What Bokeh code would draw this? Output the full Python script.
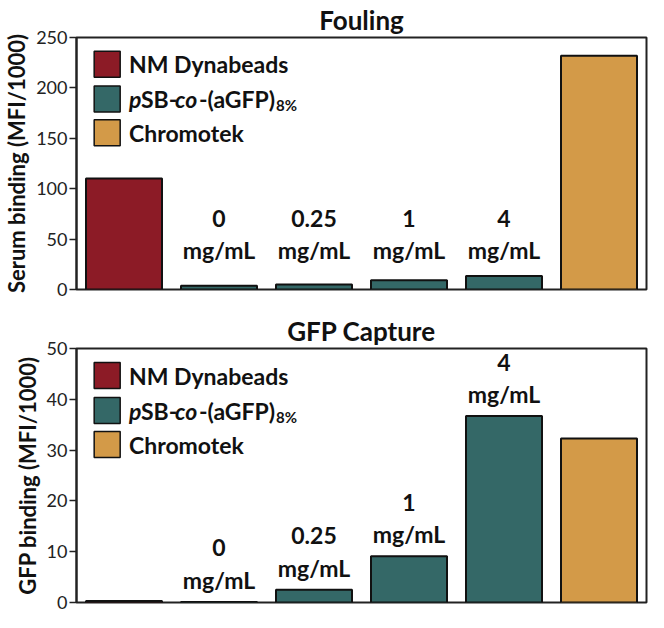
from bokeh.plotting import figure
from bokeh.layouts import column
from bokeh.models import FixedTicker, FactorRange, Range1d, ColumnDataSource
from bokeh.core.properties import value
from bokeh.embed import file_html
from bokeh.resources import INLINE

# ---------------- data ----------------
categories = ["NM Dynabeads", "0", "0.25", "1", "4", "Chromotek"]
groups = ["NM Dynabeads", "pSB", "pSB", "pSB", "pSB", "Chromotek"]
conc_categories = ["0", "0.25", "1", "4"]
fouling_values = [110, 3.8, 5.0, 9.3, 13.5, 232]
capture_values = [0.3, 0.1, 2.5, 9.1, 36.7, 32.3]
fouling_ticks = [0, 50, 100, 150, 200, 250]
capture_ticks = [0, 10, 20, 30, 40, 50]
legend_groups = ["NM Dynabeads", "pSB", "Chromotek"]

group_colors = {"NM Dynabeads": "#8C1B26", "pSB": "#346867", "Chromotek": "#D39A48"}

FONT = "Lato"
TXT = "#111111"


def make_panel(title, ylabel, vals, ticks, height, b_top, b_bottom, label_mode):
    ymax = ticks[-1]
    p = figure(x_range=FactorRange(*categories, range_padding=0),
               y_range=Range1d(0, ymax),
               width=648, height=height,
               x_axis_location=None,
               min_border_left=68, min_border_right=2,
               min_border_top=b_top, min_border_bottom=b_bottom,
               output_backend="svg", toolbar_location=None,
               title=title)
    frame_h = height - b_top - b_bottom
    upp = ymax / frame_h  # data units per pixel

    p.title.text_font = FONT
    p.title.text_font_style = "bold"
    p.title.text_font_size = "26px"
    p.title.text_color = TXT
    p.title.align = "center"
    p.title.standoff = 3
    p.title.offset = 0

    src = ColumnDataSource(dict(x=categories, top=vals,
                                color=[group_colors[g] for g in groups]))
    p.vbar(x="x", top="top", width=0.8, source=src, fill_color="color",
           line_color="#111111", line_width=2)

    # concentration labels
    conc_top = [vals[categories.index(c)] for c in conc_categories]
    if label_mode == "fixed":
        ys = [0] * len(conc_categories)
        off_num, off_unit = -71, -40
    else:
        ys = conc_top
        off_num, off_unit = -54, -22
    p.text(x=conc_categories, y=ys, text=conc_categories,
           text_font=value(FONT), text_font_style="bold", text_font_size="23px",
           text_align="center", text_baseline="middle", y_offset=off_num,
           text_color=TXT)
    p.text(x=conc_categories, y=ys, text=["mg/mL"] * len(conc_categories),
           text_font=value(FONT), text_font_style="bold", text_font_size="23px",
           text_align="center", text_baseline="middle", y_offset=off_unit,
           text_color=TXT)

    # legend (drawn manually for mixed styles)
    row_px = [27, 62, 96]
    ly = [ymax - r * upp for r in row_px]
    box_x = 31 / 96.0
    txt_x = 53 / 96.0
    p.rect(x=[box_x] * 3, y=ly, width=26, height=26, width_units="screen",
           height_units="screen", fill_color=[group_colors[g] for g in legend_groups],
           line_color="#111111", line_width=1.5)
    common = dict(text_font=value(FONT), text_font_style="bold", text_color=TXT,
                  text_baseline="middle", text_align="left")
    p.text(x=[txt_x, txt_x], y=[ly[0], ly[2]], text=["NM Dynabeads", "Chromotek"],
           text_font_size="23px", **common)
    pieces = [("p", "bold italic", "23px", 0, 0),
              ("SB-", "bold", "23px", 12, 0),
              ("co", "bold italic", "23px", 46, 0),
              ("-(aGFP)", "bold", "23px", 70, 0),
              ("8%", "bold", "15px", 147, 6)]
    for t, style, size, dx, dy in pieces:
        c = dict(common)
        c["text_font_style"] = style
        p.text(x=[txt_x], y=[ly[1]], text=[t], text_font_size=size,
               x_offset=dx, y_offset=dy, **c)

    # axes
    p.xgrid.visible = False
    p.ygrid.visible = False
    p.yaxis.ticker = FixedTicker(ticks=ticks)
    p.yaxis.minor_tick_line_color = None
    p.yaxis.major_tick_in = 0
    p.yaxis.major_tick_out = 7
    p.yaxis.major_tick_line_width = 1.5
    p.yaxis.major_tick_line_color = "#222222"
    p.yaxis.axis_line_width = 2
    p.yaxis.axis_line_color = "#222222"
    p.yaxis.major_label_text_font = FONT
    p.yaxis.major_label_text_font_size = "18px"
    p.yaxis.major_label_text_color = "#222222"
    p.yaxis.major_label_standoff = 2
    p.yaxis.axis_label = ylabel
    p.yaxis.axis_label_text_font = FONT
    p.yaxis.axis_label_text_font_style = "bold"
    p.yaxis.axis_label_text_font_size = "22px"
    p.yaxis.axis_label_text_color = TXT
    p.yaxis.axis_label_standoff = 3

    p.outline_line_color = "#222222"
    p.outline_line_width = 2
    p.background_fill_color = "white"
    p.border_fill_color = "white"
    return p


p1 = make_panel("Fouling", "Serum binding (MFI/1000)", fouling_values, fouling_ticks,
                301, 35, 12, "fixed")
p2 = make_panel("GFP Capture", "GFP binding (MFI/1000)", capture_values, capture_ticks,
                311, 47, 10, "above")

layout = column(p1, p2, spacing=0)
open("out.html", "w").write(file_html(layout, INLINE))
